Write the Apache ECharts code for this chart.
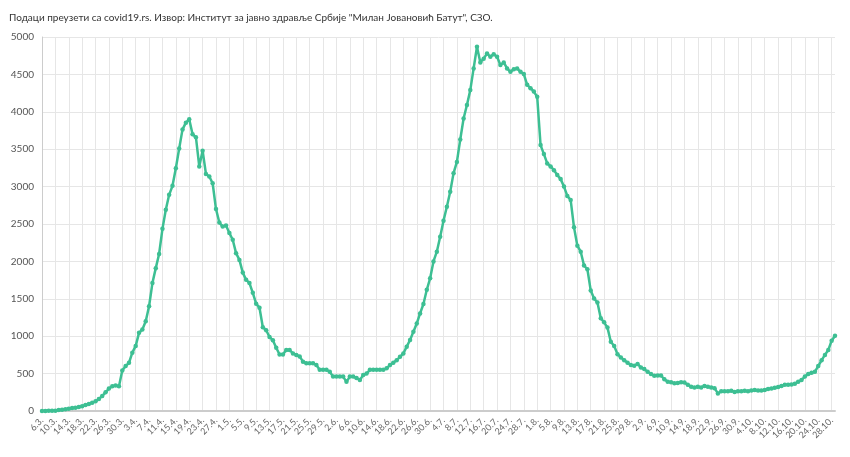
<!DOCTYPE html>
<html>
<head>
<meta charset="utf-8">
<script src="https://cdn.jsdelivr.net/npm/echarts@6/dist/echarts.min.js"></script>
<style>
  body { margin: 0; background: #fff; }
  #chart { width: 850px; height: 457px; }
</style>
</head>
<body>
<div id="chart"></div>
<script>
// активни случајеви по дану, од 6.3. до 29.10.
var marchValues = [1, 1, 2, 3, 5, 12, 18, 25, 30, 40, 45, 55, 65, 80, 95, 110, 130, 160, 200, 250, 300, 330, 340, 330];
var firstWave = [540, 600, 645, 780, 870, 1045, 1090, 1200, 1400, 1710, 1910, 2100, 2435, 2690, 2890, 3010, 3245, 3510, 3765, 3855,
	3900, 3700, 3660, 3270, 3480, 3170, 3135, 3045, 2700, 2520, 2465, 2480, 2380, 2290, 2110, 2020, 1850, 1755, 1710, 1580,
	1435, 1380, 1120, 1080, 990, 945, 845, 755, 755, 815, 815, 770];
var secondWave = [750, 730, 660, 640, 640, 640, 615, 550, 550, 550, 525, 460, 460, 460, 460, 390, 460, 460, 440, 415,
	480, 500, 550, 550, 550, 550, 550, 570, 615, 645, 680, 725, 770, 860, 950, 1060, 1170, 1305, 1430, 1620,
	1775, 2000, 2130, 2330, 2545, 2730, 2930, 3180, 3330, 3630, 3910, 4090, 4290, 4580, 4870, 4660, 4710, 4780, 4735, 4770,
	4735, 4625, 4660, 4580, 4535, 4570, 4580, 4535, 4505, 4360, 4315, 4270, 4200, 3555, 3435, 3310];
var autumnValues = [3270, 3220, 3155, 3100, 3000, 2875, 2820, 2455, 2210, 2130, 1945, 1895, 1610, 1505, 1450, 1240, 1185, 1115, 925, 870,
	760, 715, 680, 645, 615, 605, 630, 580, 560, 525, 495, 470, 475, 475, 425, 390, 385, 370, 375, 385,
	380, 350, 325, 315, 325, 315, 335, 325, 315, 305, 235, 265, 265, 265, 270, 255, 265, 265, 270, 265,
	275, 280, 275, 275, 280, 295, 300, 310, 320, 335, 350, 350, 355, 365, 390, 415, 460, 495, 510, 525,
	600, 680, 750, 815, 940, 1005];

var values = marchValues.concat(firstWave, secondWave, autumnValues);

// датуми: 6.3. ...
var dates = [];
var d = new Date(2020, 2, 6);
for (var i = 0; i < values.length; i++) {
	dates.push(d.getDate() + '.' + (d.getMonth() + 1) + '.');
	d.setDate(d.getDate() + 1);
}

var chart = echarts.init(document.getElementById('chart'));
var option = {
	animation: false,
	title: {
		text: 'Подаци преузети са covid19.rs. Извор: Институт за јавно здравље Србије "Милан Јовановић Батут", СЗО.',
		left: 4,
		top: 8,
		textStyle: { fontFamily: 'Lato', fontSize: 10, fontWeight: 'normal', color: '#333' }
	},
	grid: { left: 42, right: 15, top: 37, bottom: 46 },
	xAxis: {
		type: 'category',
		data: dates,
		boundaryGap: false,
		axisLine: { lineStyle: { color: '#ccc', width: 2 } },
		axisTick: { show: false },
		axisLabel: { interval: 3, rotate: 45, fontSize: 9, color: '#666', fontFamily: 'Lato' },
		splitLine: { show: true, interval: 3, lineStyle: { color: '#e6e6e6' } }
	},
	yAxis: {
		type: 'value',
		min: 0,
		max: 5000,
		interval: 500,
		axisLine: { show: true, lineStyle: { color: '#ccc' } },
		axisLabel: { fontSize: 10, color: '#555', fontFamily: 'Lato', formatter: function (v) { return String(v); } },
		splitLine: { lineStyle: { color: '#e6e6e6' } }
	},
	series: [{
		type: 'line',
		data: values,
		symbol: 'circle',
		symbolSize: 4.5,
		showAllSymbol: true,
		lineStyle: { color: '#3dbf93', width: 2.5 },
		itemStyle: { color: '#3dbf93' }
	}]
};
chart.setOption(option);
</script>
</body>
</html>
